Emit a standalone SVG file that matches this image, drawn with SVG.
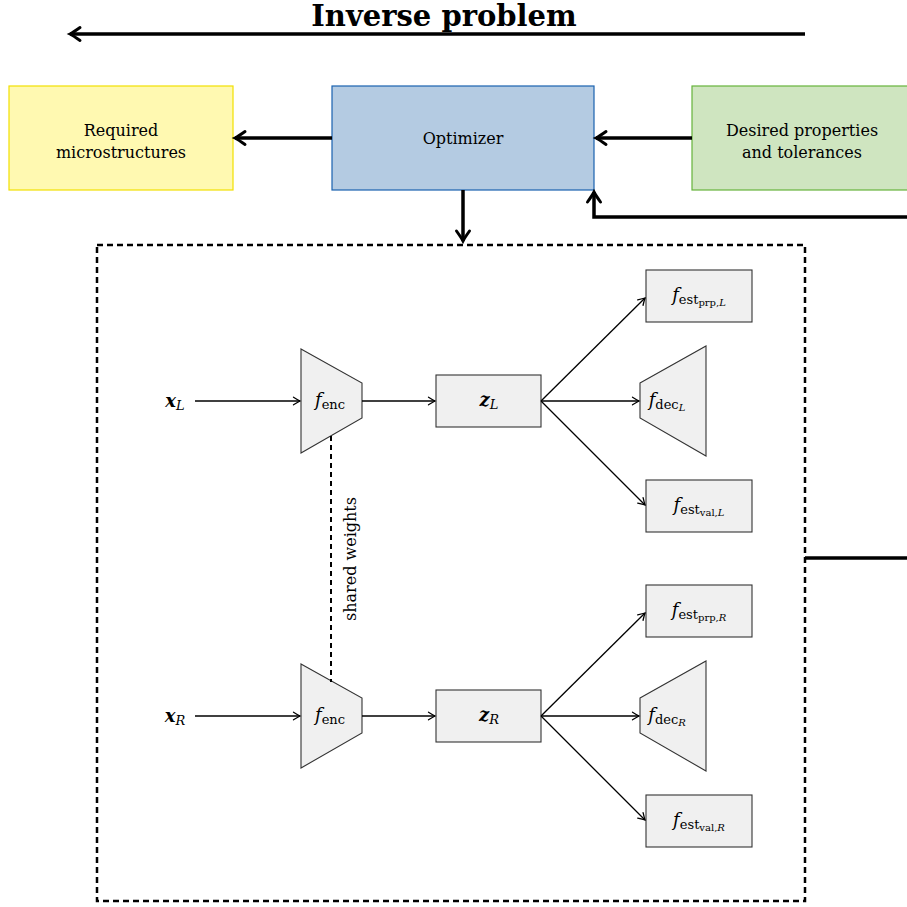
<svg xmlns="http://www.w3.org/2000/svg" width="907" height="907" viewBox="0 0 907 907">
  <style>
    text { font-family: "DejaVu Serif", "Liberation Serif", serif; fill: #000; }
    .it { font-style: italic; }
    .bi { font-style: italic; font-weight: bold; }
    .blk { fill: #f0f0f0; stroke: #333; stroke-width: 1.1; }
    .thin { fill: none; stroke: #000; stroke-width: 1.3; marker-end: url(#ah); }
    .thick { fill: none; stroke: #000; stroke-width: 3.5; }
    .thickA { fill: none; stroke: #000; stroke-width: 3.5; marker-end: url(#ahT); }
  </style>
  <defs>
    <marker id="ah" markerUnits="userSpaceOnUse" viewBox="-8 -5 10 10" refX="0" refY="0" markerWidth="10" markerHeight="10" orient="auto" overflow="visible">
      <path d="M-6.5,-3.8 Q-2,-1 0,0 Q-2,1 -6.5,3.8" fill="none" stroke="#000" stroke-width="1.3" stroke-linecap="round"/>
    </marker>
    <marker id="ahT" markerUnits="userSpaceOnUse" viewBox="-12 -8 14 16" refX="0" refY="0" markerWidth="14" markerHeight="16" orient="auto" overflow="visible">
      <path d="M-10,-6.5 Q-3,-1.5 0,0 Q-3,1.5 -10,6.5" fill="none" stroke="#000" stroke-width="3" stroke-linecap="round"/>
    </marker>
  </defs>

  <rect width="907" height="907" fill="#fff"/>

  <!-- heading -->
  <g id="title">
    <text x="444" y="26" font-size="29" font-weight="bold" text-anchor="middle">Inverse problem</text>
  </g>

  <!-- top row -->
  <g id="required">
    <rect x="9" y="86" width="224" height="104" fill="#fff9b1" stroke="#f2e000" stroke-width="1.2"/>
    <text x="121" y="136" font-size="16" text-anchor="middle">Required</text>
    <text x="121" y="158" font-size="16" text-anchor="middle">microstructures</text>
  </g>
  <g id="optimizer">
    <rect x="332" y="86" width="262" height="104" fill="#b4cbe2" stroke="#1a62b0" stroke-width="1.2"/>
    <text x="463" y="144" font-size="16" text-anchor="middle">Optimizer</text>
  </g>
  <g id="desired">
    <rect x="692" y="86" width="230" height="104" fill="#cfe5c0" stroke="#66b33b" stroke-width="1.2"/>
    <text x="802" y="136" font-size="16" text-anchor="middle">Desired properties</text>
    <text x="802" y="158" font-size="16" text-anchor="middle">and tolerances</text>
  </g>

  <!-- network frame -->
  <g id="frame">
    <rect x="97" y="245" width="708" height="656" fill="none" stroke="#000" stroke-width="2.5" stroke-dasharray="6,4"/>
  </g>

  <!-- left branch -->
  <g id="xL"><text x="175" y="407" font-size="18" text-anchor="middle"><tspan class="bi">x</tspan><tspan class="it" font-size="13" dy="3">L</tspan></text></g>
  <g id="encL">
    <polygon class="blk" points="301,349 362,383 362,418 301,453"/>
    <text x="330" y="406" font-size="18" text-anchor="middle"><tspan class="it">f</tspan><tspan font-size="13" dy="3">enc</tspan></text>
  </g>
  <g id="zL">
    <rect class="blk" x="436" y="375" width="105" height="52"/>
    <text x="489" y="406" font-size="18" text-anchor="middle"><tspan class="bi">z</tspan><tspan class="it" font-size="13" dy="3">L</tspan></text>
  </g>
  <g id="prpL">
    <rect class="blk" x="646" y="270" width="106" height="52"/>
    <text x="699" y="301" font-size="18" text-anchor="middle"><tspan class="it">f</tspan><tspan font-size="13" dy="3">est</tspan><tspan font-size="10" dy="2">prp,</tspan><tspan class="it" font-size="10">L</tspan></text>
  </g>
  <g id="decL">
    <polygon class="blk" points="640,383 706,346 706,456 640,418"/>
    <text x="667" y="406" font-size="18" text-anchor="middle"><tspan class="it">f</tspan><tspan font-size="13" dy="3">dec</tspan><tspan class="it" font-size="10" dy="2">L</tspan></text>
  </g>
  <g id="valL">
    <rect class="blk" x="646" y="480" width="106" height="52"/>
    <text x="699" y="511" font-size="18" text-anchor="middle"><tspan class="it">f</tspan><tspan font-size="13" dy="3">est</tspan><tspan font-size="10" dy="2">val,</tspan><tspan class="it" font-size="10">L</tspan></text>
  </g>

  <!-- right branch -->
  <g id="xR"><text x="175" y="722" font-size="18" text-anchor="middle"><tspan class="bi">x</tspan><tspan class="it" font-size="13" dy="3">R</tspan></text></g>
  <g id="encR">
    <polygon class="blk" points="301,664 362,698 362,733 301,768"/>
    <text x="330" y="721" font-size="18" text-anchor="middle"><tspan class="it">f</tspan><tspan font-size="13" dy="3">enc</tspan></text>
  </g>
  <g id="zR">
    <rect class="blk" x="436" y="690" width="105" height="52"/>
    <text x="489" y="721" font-size="18" text-anchor="middle"><tspan class="bi">z</tspan><tspan class="it" font-size="13" dy="3">R</tspan></text>
  </g>
  <g id="prpR">
    <rect class="blk" x="646" y="585" width="106" height="52"/>
    <text x="699" y="616" font-size="18" text-anchor="middle"><tspan class="it">f</tspan><tspan font-size="13" dy="3">est</tspan><tspan font-size="10" dy="2">prp,</tspan><tspan class="it" font-size="10">R</tspan></text>
  </g>
  <g id="decR">
    <polygon class="blk" points="640,698 706,661 706,771 640,733"/>
    <text x="667" y="721" font-size="18" text-anchor="middle"><tspan class="it">f</tspan><tspan font-size="13" dy="3">dec</tspan><tspan class="it" font-size="10" dy="2">R</tspan></text>
  </g>
  <g id="valR">
    <rect class="blk" x="646" y="795" width="106" height="52"/>
    <text x="699" y="826" font-size="18" text-anchor="middle"><tspan class="it">f</tspan><tspan font-size="13" dy="3">est</tspan><tspan font-size="10" dy="2">val,</tspan><tspan class="it" font-size="10">R</tspan></text>
  </g>

  <!-- connectors -->
  <g id="connectors">
    <path class="thickA" d="M805,34 H70"/>
    <path class="thickA" d="M332,138 H235"/>
    <path class="thickA" d="M692,138 H596"/>
    <path class="thickA" d="M463,190 V241"/>
    <path class="thickA" d="M907,217 H594 V192"/>
    <path class="thick" d="M805,558 H907"/>

    <path class="thin" d="M195,401 H300"/>
    <path class="thin" d="M362,401 H435"/>
    <path class="thin" d="M541,401 L645,298"/>
    <path class="thin" d="M541,401 H639"/>
    <path class="thin" d="M541,401 L645,505"/>

    <path class="thin" d="M195,716 H300"/>
    <path class="thin" d="M362,716 H435"/>
    <path class="thin" d="M541,716 L645,613"/>
    <path class="thin" d="M541,716 H639"/>
    <path class="thin" d="M541,716 L645,820"/>

    <path d="M331,436 V682" fill="none" stroke="#000" stroke-width="2" stroke-dasharray="5,4"/>
    <text x="0" y="0" font-size="16" text-anchor="middle" transform="translate(356,559) rotate(-90)">shared weights</text>
  </g>
</svg>
